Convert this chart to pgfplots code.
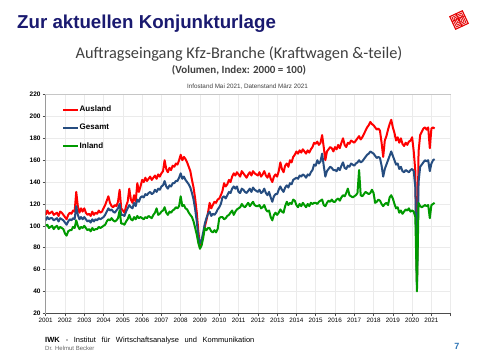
\documentclass[border=0pt]{standalone}
\usepackage{pgfplots}
\pgfplotsset{compat=1.18}
\usepackage{pgfplotstable}
\usepackage{fontspec}
\setmainfont{Liberation Sans}
\newfontfamily\carlito{Carlito}
\definecolor{navy}{HTML}{1A1A70}
\definecolor{ausland}{HTML}{FF0000}
\definecolor{gesamt}{HTML}{264D80}
\definecolor{inland}{HTML}{009A00}
\definecolor{subgray}{HTML}{404040}
\definecolor{pageblue}{HTML}{2E75B6}

% monthly values Jan 2001 - Mar 2021: Ausland, Gesamt, Inland
\pgfplotstableread[row sep=\\]{
A G I\\
110 105 100\\ 114 108 101\\ 111 106 98\\ 112 107 99\\ 113 107 100\\ 110 105 97\\ 111 106 99\\ 112 107 100\\ 109 104 97\\ 113 107 99\\ 112 106 98\\ 110 105 97\\
108 103 93\\ 106 101 91\\ 110 104 95\\ 112 106 96\\ 111 105 96\\ 114 107 99\\ 113 106 98\\ 131 118 105\\ 118 110 100\\ 112 106 97\\ 116 108 99\\ 113 106 98\\
116 108 100\\ 112 106 98\\ 110 104 96\\ 111 105 97\\ 109 103 95\\ 113 106 98\\ 110 104 96\\ 112 106 97\\ 111 105 97\\ 114 107 99\\ 112 106 98\\ 113 107 99\\
116 108 100\\ 119 110 101\\ 123 113 104\\ 127 116 106\\ 121 114 105\\ 118 115 107\\ 117 113 105\\ 119 112 104\\ 118 114 105\\ 122 116 107\\ 133 120 114\\ 116 110 102\\
114 110 102\\ 112 109 101\\ 118 113 104\\ 122 116 106\\ 134 119 110\\ 124 117 106\\ 121 116 105\\ 128 121 108\\ 122 118 106\\ 139 124 109\\ 131 122 107\\ 136 126 108\\
142 127 107\\ 140 126 106\\ 144 129 108\\ 141 128 107\\ 143 130 109\\ 145 131 108\\ 142 129 107\\ 144 130 110\\ 146 133 112\\ 143 131 116\\ 147 134 110\\ 145 133 111\\
148 136 113\\ 150 137 114\\ 160 141 117\\ 152 136 112\\ 149 134 110\\ 153 137 113\\ 151 136 112\\ 155 139 114\\ 154 139 115\\ 157 141 117\\ 156 141 116\\ 160 144 118\\
165 148 127\\ 160 143 118\\ 163 145 119\\ 161 142 116\\ 158 140 115\\ 154 138 112\\ 150 135 110\\ 142 130 108\\ 135 124 104\\ 125 115 98\\ 112 104 92\\ 95 90 84\\
81 84 79\\ 85 87 82\\ 92 94 89\\ 99 102 98\\ 105 107 96\\ 112 111 98\\ 121 113 98\\ 116 109 95\\ 119 111 94\\ 122 110 96\\ 121 112 94\\ 124 115 97\\
125 117 107\\ 128 120 108\\ 132 126 108\\ 139 127 106\\ 136 125 107\\ 138 128 109\\ 142 131 110\\ 140 130 112\\ 145 134 114\\ 148 136 110\\ 146 134 113\\ 149 136 115\\
147 131 116\\ 145 130 117\\ 150 134 120\\ 148 133 118\\ 146 131 117\\ 144 130 119\\ 147 132 121\\ 149 134 118\\ 146 131 120\\ 150 135 122\\ 148 133 119\\ 147 132 118\\
146 131 118\\ 149 133 119\\ 145 130 116\\ 147 131 117\\ 150 134 119\\ 146 130 115\\ 144 128 113\\ 148 131 114\\ 143 126 108\\ 140 122 105\\ 145 127 110\\ 147 129 112\\
145 129 110\\ 150 133 112\\ 158 136 115\\ 152 133 113\\ 149 131 112\\ 155 135 118\\ 157 137 122\\ 154 135 119\\ 160 139 121\\ 158 138 120\\ 163 142 124\\ 165 143 123\\
168 144 119\\ 166 143 117\\ 169 146 120\\ 167 145 118\\ 170 147 121\\ 168 146 119\\ 166 144 117\\ 169 147 120\\ 167 146 118\\ 170 149 121\\ 172 151 120\\ 176 156 121\\
175 155 121\\ 177 160 120\\ 174 157 122\\ 176 159 123\\ 183 166 124\\ 172 155 119\\ 160 145 118\\ 168 150 121\\ 170 152 123\\ 172 154 122\\ 171 153 124\\ 168 151 122\\
172 151 122\\ 170 150 124\\ 174 153 125\\ 171 151 123\\ 176 155 126\\ 180 158 128\\ 174 153 127\\ 172 152 130\\ 176 155 134\\ 175 154 128\\ 178 157 127\\ 177 156 126\\
176 155 127\\ 178 157 128\\ 180 158 130\\ 182 160 151\\ 179 158 128\\ 181 159 127\\ 184 161 129\\ 187 163 131\\ 190 165 130\\ 192 166 129\\ 195 168 130\\ 193 167 133\\
192 166 130\\ 190 164 121\\ 188 162 122\\ 189 163 124\\ 187 162 123\\ 176 155 120\\ 163 145 118\\ 178 152 120\\ 182 156 121\\ 188 160 119\\ 193 164 126\\ 197 168 128\\
190 164 125\\ 185 160 120\\ 178 156 116\\ 181 157 117\\ 176 152 112\\ 180 154 114\\ 175 150 111\\ 173 149 113\\ 176 151 115\\ 174 150 114\\ 177 149 116\\ 178 151 113\\
181 152 114\\ 168 150 113\\ 150 135 108\\ 50 46 40\\ 168 140 121\\ 183 154 118\\ 186 156 117\\ 189 158 118\\ 190 160 119\\ 188 159 118\\ 190 160 119\\ 171 150 107\\
189 157 119\\ 190 160 120\\ 189 161 121\\
}\kfz

\begin{document}
\begin{tikzpicture}[x=1pt,y=1pt]
\useasboundingbox (0,0) rectangle (480,360);
\fill[white] (0,0) rectangle (480,360);

% header
\node[anchor=base west, text=navy, font=\bfseries\fontsize{18.7}{20}\selectfont, inner sep=0] at (17,331.7) {Zur aktuellen Konjunkturlage};
\node[anchor=base, text=subgray, font=\carlito\fontsize{16.3}{18}\selectfont, inner sep=0] at (239,301.7) {Auftragseingang Kfz-Branche (Kraftwagen \&-teile)};
\node[anchor=base, text=subgray, font=\carlito\bfseries\fontsize{11}{12}\selectfont, inner sep=0] at (239,286.5) {(Volumen, Index: 2000 = 100)};
\node[anchor=base, text=subgray, font=\fontsize{6.3}{7}\selectfont, inner sep=0] at (247.5,272) {Infostand Mai 2021, Datenstand März 2021};

% logo
\begin{scope}[shift={(459,340)}, rotate=25]
\fill[red!90!black] (-7.5,-7.5) rectangle (7.5,7.5);
\draw[white, line width=0.45] (-6,-6) rectangle (6,6);
\draw[white, line width=0.45] (-4.5,-4.5) rectangle (4.5,4.5);
\draw[white, line width=0.45] (-3,-3) rectangle (3,3);
\draw[white, line width=0.45] (-1.5,-1.5) rectangle (1.5,1.5);
\draw[red!90!black, line width=0.8] (0,-7) -- (0,7);
\draw[red!90!black, line width=0.8] (-7,1.5) -- (7,1.5);
\end{scope}

% footer
\node[anchor=base west, font=\fontsize{7.5}{8}\selectfont, inner sep=0] at (45,17.5) {\textbf{IWK}\hspace{0.8em}-\hspace{0.75em}Institut\hspace{0.75em}für\hspace{0.75em}Wirtschaftsanalyse\hspace{0.75em}und\hspace{0.75em}Kommunikation};
\node[anchor=base west, text=gray!80!black, font=\fontsize{6}{7}\selectfont, inner sep=0] at (45,9.5) {Dr. Helmut Becker};
\node[anchor=base, text=pageblue, font=\bfseries\fontsize{9}{10}\selectfont, inner sep=0] at (457,10.5) {7};

\begin{axis}[
  at={(45.7pt,46.7pt)}, anchor=south west,
  scale only axis, width=405pt, height=218.7pt,
  xmin=2001, xmax=2022, ymin=20, ymax=220,
  xtick={2001,...,2021},
  extra x ticks={2022}, extra x tick labels={},
  ytick={20,40,...,220},
  axis line style={draw=gray!45, line width=0.6pt},
  tick style={draw=gray!60!black, line width=0.5pt},
  major tick length=3pt,
  tick align=outside,
  xtick pos=bottom, ytick pos=left,
  grid=major,
  major grid style={draw=gray!16, line width=0.5pt},
  /pgf/number format/assume math mode=true,
  /pgf/number format/1000 sep={},
  xticklabel style={font=\fontsize{6.3}{7}\selectfont, inner sep=1.5pt},
  yticklabel style={font=\bfseries\fontsize{6.5}{7}\selectfont, inner sep=2pt},
  legend style={draw=none, fill=none, anchor=north west, at={(axis description cs:0.04,0.952)},
    font=\bfseries\fontsize{8}{9}\selectfont, row sep=10pt, inner sep=0pt,
    nodes={inner sep=0.6pt}},
  legend cell align=left,
  legend image code/.code={\draw[#1, line width=2pt] (0pt,0pt) -- (15pt,0pt);},
]
\addplot[color=ausland, line width=2pt, line join=round, no markers] table[x expr=2001+\coordindex/12, y=A] {\kfz};
\addlegendentry{Ausland}
\addplot[color=gesamt, line width=2pt, line join=round, no markers] table[x expr=2001+\coordindex/12, y=G] {\kfz};
\addlegendentry{Gesamt}
\addplot[color=inland, line width=2pt, line join=round, no markers] table[x expr=2001+\coordindex/12, y=I] {\kfz};
\addlegendentry{Inland}
\draw[gray!60!black, line width=0.6pt] (rel axis cs:0,0) -- (rel axis cs:0,1);
\draw[gray!60!black, line width=0.6pt] (rel axis cs:0,0) -- (rel axis cs:1,0);
\end{axis}
\end{tikzpicture}
\end{document}
